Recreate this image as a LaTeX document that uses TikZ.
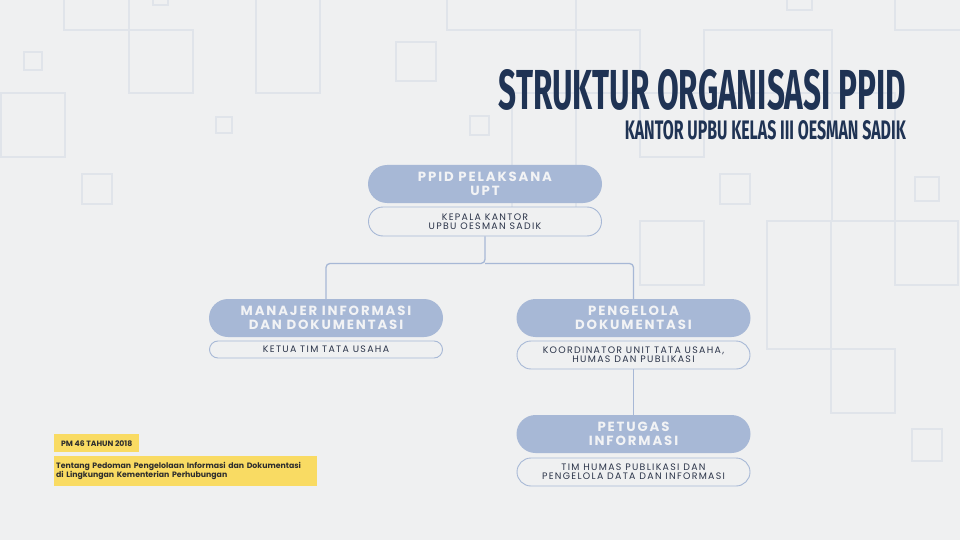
\documentclass[tikz,border=0pt]{standalone}
\usepackage{fontspec}
\usepackage{graphicx}
\usetikzlibrary{calc}
\setmainfont{Poppins}
\newfontfamily\popb[LetterSpace=14]{Poppins}
\newfontfamily\popr[LetterSpace=14]{Poppins}
\newfontfamily\popy{Poppins}
\newfontfamily\titlef{Fira Sans}
\definecolor{bgc}{HTML}{EFF0F1}
\definecolor{sqc}{HTML}{E0E4EA}
\definecolor{pillc}{HTML}{A7B8D6}
\definecolor{pilltext}{HTML}{F2F3F5}
\definecolor{navy}{HTML}{1F3354}
\definecolor{subtext}{HTML}{2B3449}
\definecolor{yel}{HTML}{F9DB63}
\definecolor{ytext}{HTML}{2E2E2E}
\tikzset{
  sqline/.style={draw=sqc, line width=1.5pt},
  head/.style={fill=pillc, rounded corners=19pt, minimum width=234pt, minimum height=38pt,
    text=pilltext, font=\popb\bfseries\fontsize{13.3}{13.5}\selectfont, align=center, inner sep=0pt},
  subbox/.style={draw=pillc, line width=0.9pt, fill=bgc, minimum width=233pt,
    text=subtext, font=\popr\fontsize{9.4}{9.4}\selectfont, align=center, inner sep=0pt},
  conn/.style={draw=pillc, line width=1.3pt, rounded corners=4pt},
  ybox/.style={fill=yel, text=ytext, inner sep=0pt},
}
\begin{document}
\begin{tikzpicture}[x=1pt,y=-1pt]
\fill[bgc] (0,0) rectangle (960,540);
\useasboundingbox (0,0) rectangle (960,540);
\begin{scope}
\clip (0,0) rectangle (960,540);
\draw[sqline] (64,-5) -- (64,30) -- (129,30) -- (129,-5);
\draw[sqline] (129,30) rectangle (193,93);
\draw[sqline] (153,-10) rectangle (168,5);
\draw[sqline] (256,-5) -- (256,93) -- (320,93) -- (320,-5);
\draw[sqline] (24,52) rectangle (42,70);
\draw[sqline] (1,93) rectangle (65,157);
\draw[sqline] (216,117) rectangle (232,133);
\draw[sqline] (82,174) rectangle (112,204);
\draw[sqline] (396,42) rectangle (436,81);
\draw[sqline] (470,116) rectangle (489,135);
\draw[sqline] (447,-5) -- (447,30) -- (640,30) -- (640,157) -- (704,157) -- (704,30) -- (832,30) -- (832,221);
\draw[sqline] (576,-5) -- (576,221);
\draw[sqline] (512,93) -- (512,221) -- (576,221);
\draw[sqline] (512,93) -- (895,93) -- (895,221);
\draw[sqline] (895,-5) -- (895,30) -- (965,30);
\draw[sqline] (787,-5) -- (787,10) -- (812,10) -- (812,-5);
\draw[sqline] (720,174) rectangle (750,204);
\draw[sqline] (915,177) rectangle (939,201);
\draw[sqline] (767,221) -- (958,221);
\draw[sqline] (895,221) rectangle (958,285);
\draw[sqline] (767,221) rectangle (831,349);
\draw[sqline] (831,349) rectangle (895,413);
\draw[sqline] (640,221) rectangle (704,285);
\draw[sqline] (912,429) rectangle (942,461);
\end{scope}

% title
\node[anchor=north east, inner sep=0pt, text=navy] (title) at (906,69)
  {\resizebox{407pt}{40pt}{\titlef\bfseries STRUKTUR ORGANISASI PPID}};
\node[anchor=north east, inner sep=0pt, text=navy] (subtitle) at (906,120)
  {\resizebox{281pt}{19pt}{\titlef\bfseries KANTOR UPBU KELAS III OESMAN SADIK}};

% nodes
\node[head] (top) at (485,184) {PPID PELAKSANA\\UPT};
\node[subbox, minimum height=29pt, rounded corners=14.5pt] (topsub) at (485,221.5) {KEPALA KANTOR\\UPBU OESMAN SADIK};
\node[head] (mgr) at (326,318) {MANAJER INFORMASI\\DAN DOKUMENTASI};
\node[subbox, minimum height=17pt, rounded corners=8.5pt] (mgrsub) at (326,349.5) {KETUA TIM TATA USAHA};
\node[head] (peng) at (633.5,318) {PENGELOLA\\DOKUMENTASI};
\node[subbox, minimum height=28pt, rounded corners=14pt] (pengsub) at (633.5,355) {KOORDINATOR UNIT TATA USAHA,\\HUMAS DAN PUBLIKASI};
\node[head] (pet) at (633.5,434) {PETUGAS\\INFORMASI};
\node[subbox, minimum height=28pt, rounded corners=14pt] (petsub) at (633.5,472) {TIM HUMAS PUBLIKASI DAN\\PENGELOLA DATA DAN INFORMASI};

% connectors
\coordinate (junc) at ($(topsub.south)+(0,27)$);
\draw[conn] (topsub.south) -- (junc) -| (mgr.north);
\draw[conn] (junc) -| (peng.north);
\draw[conn] (pengsub.south) -- (pet.north);

% yellow notes
\node[ybox, anchor=north west, minimum width=85pt, minimum height=18pt,
  font=\popy\bfseries\fontsize{7.7}{8}\selectfont] (pm) at (54,434) {PM 46 TAHUN 2018};
\node[ybox, anchor=north west, minimum width=263pt, minimum height=30pt, text width=259pt,
  inner xsep=2pt, align=left, font=\popy\bfseries\fontsize{7.8}{8}\selectfont] (desc) at (54,456)
  {Tentang Pedoman Pengelolaan Informasi dan Dokumentasi\\di Lingkungan Kementerian Perhubungan};
\end{tikzpicture}
\end{document}
